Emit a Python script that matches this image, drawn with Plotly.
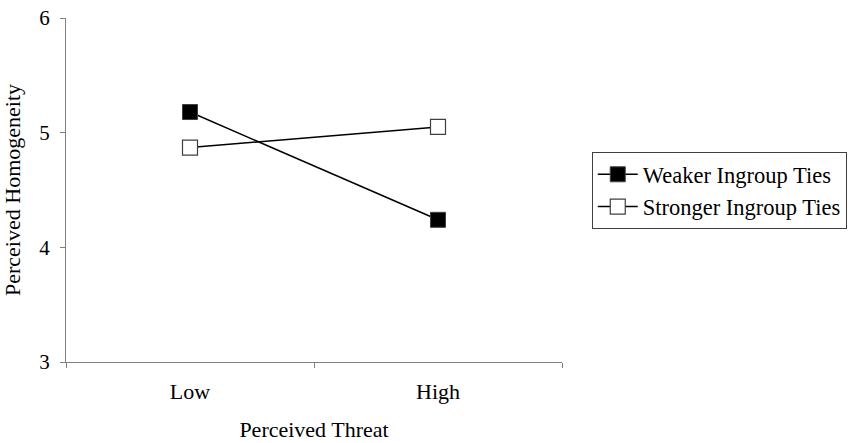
import plotly.graph_objects as go

categories = ["Low", "High"]
weaker = [5.18, 4.24]
stronger = [4.87, 5.05]
series_names = ["Weaker Ingroup Ties", "Stronger Ingroup Ties"]
y_ticks = [3, 4, 5, 6]

FONT = "Liberation Serif"

fig = go.Figure()
fig.add_trace(go.Scatter(
    x=categories, y=weaker, name=series_names[0], mode="lines+markers",
    line=dict(color="black", width=1.5),
    marker=dict(symbol="square", size=15, color="black",
                line=dict(color="#404040", width=1)),
))
fig.add_trace(go.Scatter(
    x=categories, y=stronger, name=series_names[1], mode="lines+markers",
    line=dict(color="black", width=1.5),
    marker=dict(symbol="square", size=15, color="white",
                line=dict(color="#404040", width=1.2)),
))

fig.update_layout(
    width=851, height=443,
    margin=dict(l=66, r=289, t=18, b=81, autoexpand=False),
    paper_bgcolor="white", plot_bgcolor="white",
    font=dict(family=FONT, size=22, color="black"),
    showlegend=True,
    legend=dict(
        x=1.06, y=0.61, xanchor="left", yanchor="top",
        bordercolor="#404040", borderwidth=1,
        font=dict(family=FONT, size=22.5, color="black"),
        itemwidth=40, tracegroupgap=0,
    ),
    xaxis=dict(
        type="category", range=[-0.5, 1.5],
        showline=True, linecolor="#808080", linewidth=1.2,
        ticks="outside", ticklen=5, tickcolor="#808080", tickson="boundaries",
        showgrid=False, zeroline=False,
        tickfont=dict(family=FONT, size=22),
        ticklabelstandoff=9,
        title=dict(text="Perceived Threat", font=dict(family=FONT, size=22), standoff=19),
    ),
    yaxis=dict(
        range=[3, 6], tickvals=y_ticks,
        showline=True, linecolor="#808080", linewidth=1.2,
        ticks="outside", ticklen=5, tickcolor="#808080",
        showgrid=False, zeroline=False,
        tickfont=dict(family=FONT, size=21),
        ticklabelstandoff=6,
        title=dict(text="Perceived Homogeneity", font=dict(family=FONT, size=22), standoff=19),
    ),
)

fig.write_html(
    "out.html",
    config={"displayModeBar": False},
    post_script="document.body.style.margin='0';document.body.style.padding='0';",
)
